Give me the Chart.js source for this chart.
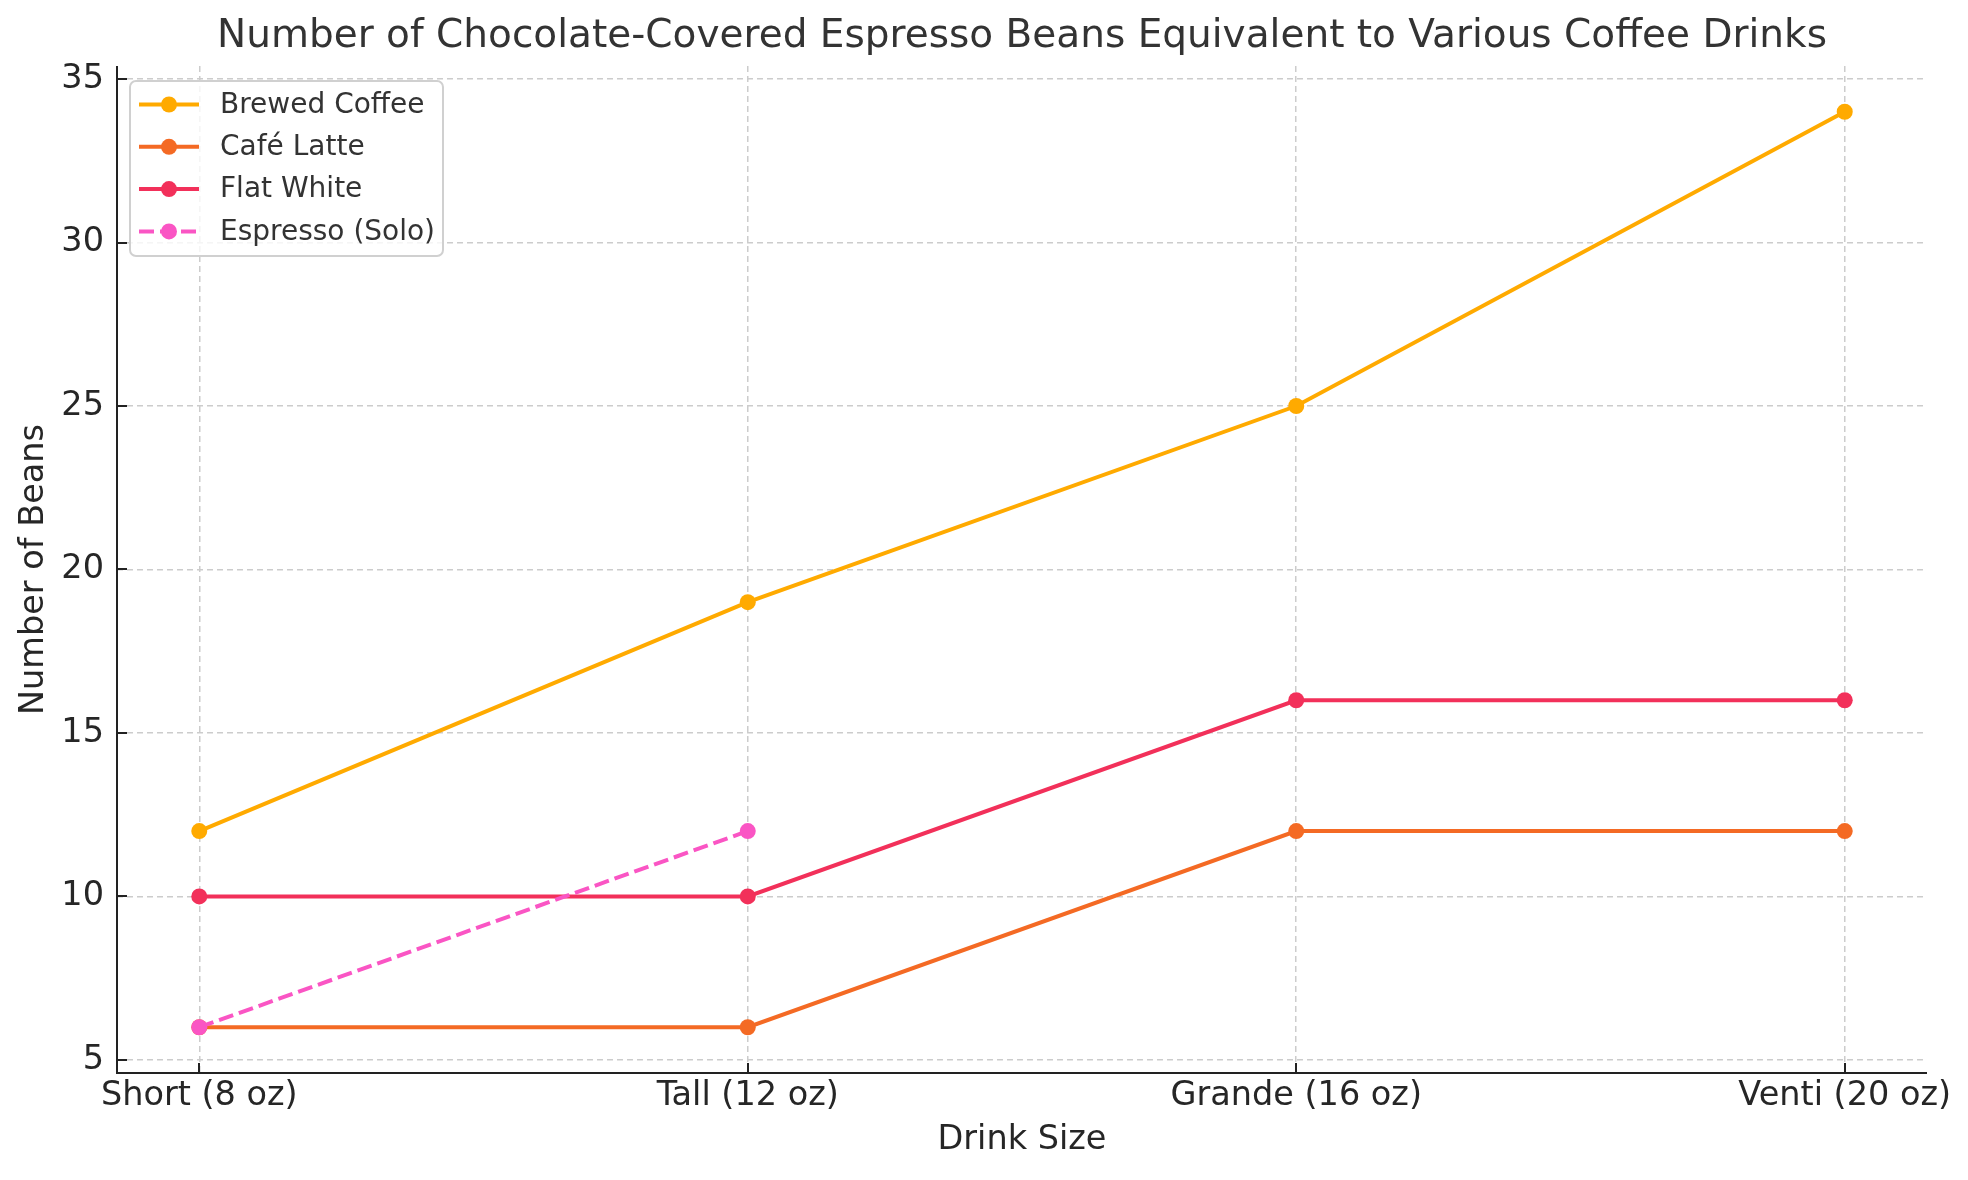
<!DOCTYPE html>
<html>
<head>
<meta charset="utf-8">
<script src="https://cdn.jsdelivr.net/npm/chart.js@4/dist/chart.umd.min.js"></script>
<style>
  html, body { margin: 0; padding: 0; background: #fff; }
  #wrap { width: 1968px; height: 1180px; }
</style>
</head>
<body>
<div id="wrap"><canvas id="chart" width="1968" height="1180"></canvas></div>
<script>
const sizes = ['Short (8 oz)', 'Tall (12 oz)', 'Grande (16 oz)', 'Venti (20 oz)']
const brewedCoffee = [12, 19, 25, 34]
const cafeLatte = [6, 6, 12, 12]
const flatWhite = [10, 10, 16, 16]
const espressoSolo = [6, 12, null, null]
const yTicks = [5, 10, 15, 20, 25, 30, 35]
const chartTitle = 'Number of Chocolate-Covered Espresso Beans Equivalent to Various Coffee Drinks'

const FONT = "'DejaVu Sans', 'Liberation Sans', sans-serif"
const TEXT = '#262626'

const toPoints = (values) => values.map((v, i) => ({ x: i, y: v }))

const makeSet = (label, values, color, order, dashed) => ({
  label,
  data: toPoints(values),
  borderColor: color,
  backgroundColor: color,
  pointBackgroundColor: color,
  pointBorderWidth: 0,
  pointRadius: 8,
  pointHoverRadius: 8,
  borderWidth: 4,
  borderDash: dashed ? [15, 6] : [],
  spanGaps: false,
  tension: 0,
  order
})

const datasets = [
  makeSet('Brewed Coffee', brewedCoffee, '#FFAA00', 3, false),
  makeSet('Café Latte', cafeLatte, '#F46A24', 2, false),
  makeSet('Flat White', flatWhite, '#F2305A', 1, false),
  makeSet('Espresso (Solo)', espressoSolo, '#FA55C4', 0, true)
]

// title centred over the plot area, not the whole canvas
const plotTitle = {
  id: 'plotTitle',
  afterDraw(chart) {
    const { ctx, chartArea: a } = chart
    ctx.save()
    ctx.font = '39px ' + FONT
    ctx.fillStyle = '#333'
    ctx.textAlign = 'center'
    ctx.textBaseline = 'middle'
    ctx.fillText(chartTitle, (a.left + a.right) / 2, 37)
    ctx.restore()
  }
}

// spines and inward tick marks
const axesPlugin = {
  id: 'axesPlugin',
  afterDatasetsDraw(chart) {
    const { ctx, chartArea: a, scales } = chart
    ctx.save()
    ctx.strokeStyle = '#222'
    ctx.lineWidth = 2
    ctx.setLineDash([])
    ctx.beginPath()
    ctx.moveTo(a.left, a.top)
    ctx.lineTo(a.left, a.bottom)
    ctx.lineTo(a.right, a.bottom)
    ctx.stroke()
    ctx.beginPath()
    yTicks.forEach(t => {
      const y = Math.round(scales.y.getPixelForValue(t))
      ctx.moveTo(a.left, y)
      ctx.lineTo(a.left + 10, y)
    })
    sizes.forEach((s, i) => {
      const x = Math.round(scales.x.getPixelForValue(i))
      ctx.moveTo(x, a.bottom)
      ctx.lineTo(x, a.bottom - 10)
    })
    ctx.stroke()
    ctx.restore()
  }
}

// legend box in the upper left corner of the plot
const insideLegend = {
  id: 'insideLegend',
  afterDraw(chart) {
    const { ctx, chartArea: a } = chart
    const bx = a.left + 13, by = a.top + 15, bw = 313, bh = 175, r = 6
    ctx.save()
    ctx.beginPath()
    ctx.roundRect(bx, by, bw, bh, r)
    ctx.fillStyle = 'rgba(255,255,255,0.8)'
    ctx.fill()
    ctx.strokeStyle = '#d0d0d0'
    ctx.lineWidth = 2
    ctx.stroke()

    ctx.font = '28px ' + FONT
    ctx.textBaseline = 'middle'
    ctx.textAlign = 'left'
    datasets.forEach((ds, i) => {
      const y = by + 23.5 + i * 42.3
      const x0 = bx + 9, x1 = bx + 69
      ctx.strokeStyle = ds.borderColor
      ctx.lineWidth = 4
      ctx.setLineDash(ds.borderDash)
      ctx.beginPath()
      ctx.moveTo(x0, y)
      ctx.lineTo(x1, y)
      ctx.stroke()
      ctx.setLineDash([])
      ctx.fillStyle = ds.borderColor
      ctx.beginPath()
      ctx.arc((x0 + x1) / 2, y, 8, 0, Math.PI * 2)
      ctx.fill()
      ctx.fillStyle = '#333'
      ctx.fillText(ds.label, bx + 90, y + 1)
    })
    ctx.restore()
  }
}

new Chart(document.getElementById('chart'), {
  type: 'line',
  data: { datasets },
  options: {
    responsive: false,
    animation: false,
    devicePixelRatio: 1,
    layout: { padding: { left: 0, right: 41, top: 66, bottom: 0 } },
    plugins: {
      legend: { display: false },
      tooltip: { enabled: false },
      title: { display: false }
    },
    scales: {
      x: {
        type: 'linear',
        min: -0.15,
        max: 3.15,
        afterBuildTicks: (scale) => { scale.ticks = sizes.map((s, i) => ({ value: i })) },
        afterFit: (scale) => { scale.height = 107 },
        ticks: {
          color: TEXT,
          font: { family: FONT, size: 33.5 },
          padding: 3,
          maxRotation: 0,
          autoSkip: false,
          callback: (v) => sizes[v]
        },
        grid: { color: '#cccccc', lineWidth: 1.5, drawTicks: false },
        border: { display: false, dash: [6, 4] },
        title: {
          display: true,
          text: 'Drink Size',
          color: TEXT,
          font: { family: FONT, size: 33.5, lineHeight: 1.2 },
          padding: { top: 0, bottom: 20 }
        }
      },
      y: {
        min: 4.6,
        max: 35.4,
        afterBuildTicks: (scale) => { scale.ticks = yTicks.map(v => ({ value: v })) },
        afterFit: (scale) => { scale.width = 117 },
        ticks: {
          color: TEXT,
          font: { family: FONT, size: 33.5 },
          padding: 13
        },
        grid: { color: '#cccccc', lineWidth: 1.5, drawTicks: false },
        border: { display: false, dash: [6, 4] },
        title: {
          display: true,
          text: 'Number of Beans',
          color: TEXT,
          font: { family: FONT, size: 33.5, lineHeight: 1.2 },
          padding: { top: 14, bottom: 0 }
        }
      }
    }
  },
  plugins: [axesPlugin, insideLegend, plotTitle]
})
</script>
</body>
</html>
